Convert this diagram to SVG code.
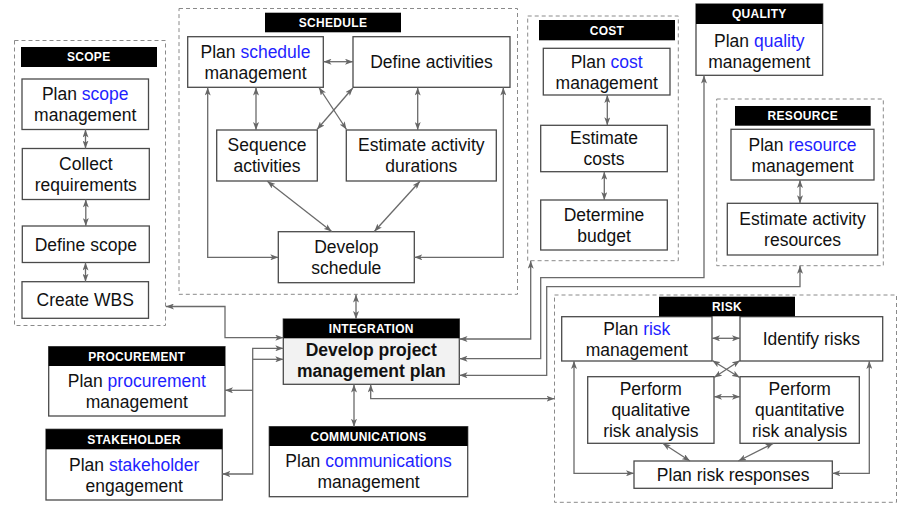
<svg xmlns="http://www.w3.org/2000/svg" width="909" height="509" viewBox="0 0 909 509">
<defs>
<marker id="ah" viewBox="0 0 8 6" refX="8" refY="3" markerWidth="8" markerHeight="6" markerUnits="userSpaceOnUse" orient="auto-start-reverse">
<path d="M0,0 L8,3 L0,6 L2,3 z" fill="#666"/>
</marker>
<style>
.grp{fill:none;stroke:#8a8a8a;stroke-width:1;stroke-dasharray:4 3}
.box{fill:#fff;stroke:#4a4a4a;stroke-width:1.3}
.ibox{fill:#f2f2f2;stroke:#4a4a4a;stroke-width:1.3}
.bar{fill:#000}
.t{font-family:"Liberation Sans",Arial,sans-serif;font-size:17.5px;fill:#111;text-anchor:middle}
.b{font-weight:bold}
.h{font-family:"Liberation Sans",Arial,sans-serif;font-size:12px;font-weight:bold;fill:#fff;text-anchor:middle;letter-spacing:0.3px}
.bl{fill:#1f1fff}
.c{fill:none;stroke:#6a6a6a;stroke-width:1.3;marker-start:url(#ah);marker-end:url(#ah)}
.ce{fill:none;stroke:#6a6a6a;stroke-width:1.3;marker-end:url(#ah)}
.cn{fill:none;stroke:#6a6a6a;stroke-width:1.3}
</style>
</defs>
<rect width="909" height="509" fill="#fff"/>

<g id="scope">
<rect class="grp" x="14.5" y="40.5" width="151" height="285"/>
<rect class="bar" x="21" y="47" width="136" height="20"/>
<text class="h" x="88.7" y="61">SCOPE</text>
<g id="plan-scope"><rect class="box" x="22" y="79" width="126.5" height="50.5"/><text class="t" x="85.2" y="99.8">Plan <tspan class="bl">scope</tspan></text><text class="t" x="85.2" y="120.8">management</text></g>
<g id="collect-req"><rect class="box" x="22.3" y="148.5" width="127" height="51"/><text class="t" x="85.8" y="169.6">Collect</text><text class="t" x="85.8" y="190.6">requirements</text></g>
<g id="define-scope"><rect class="box" x="22.3" y="226" width="127" height="36.5"/><text class="t" x="85.8" y="250.5">Define scope</text></g>
<g id="create-wbs"><rect class="box" x="22" y="281.7" width="126.5" height="36.6"/><text class="t" x="85.2" y="306.3">Create WBS</text></g>
</g>

<g id="schedule">
<rect class="grp" x="179" y="8.5" width="338.5" height="285.8"/>
<rect class="bar" x="265" y="12.7" width="136" height="19.6"/>
<text class="h" x="333" y="26.8">SCHEDULE</text>
<g id="plan-schedule"><rect class="box" x="187.7" y="36.7" width="135.6" height="50.6"/><text class="t" x="255.5" y="57.8">Plan <tspan class="bl">schedule</tspan></text><text class="t" x="255.5" y="78.8">management</text></g>
<g id="define-activities"><rect class="box" x="353" y="36.7" width="157" height="50.6"/><text class="t" x="431.5" y="68.3">Define activities</text></g>
<g id="sequence-activities"><rect class="box" x="216.7" y="130" width="100.6" height="51"/><text class="t" x="267" y="151.3">Sequence</text><text class="t" x="267" y="172.3">activities</text></g>
<g id="estimate-durations"><rect class="box" x="346.3" y="130" width="150" height="51"/><text class="t" x="421.3" y="151.3">Estimate activity</text><text class="t" x="421.3" y="172.3">durations</text></g>
<g id="develop-schedule"><rect class="box" x="278.3" y="231.7" width="136" height="51"/><text class="t" x="346.3" y="253">Develop</text><text class="t" x="346.3" y="274">schedule</text></g>
</g>

<g id="cost">
<rect class="grp" x="527.7" y="16" width="150.6" height="244.7"/>
<rect class="bar" x="539" y="20" width="136" height="20.3"/>
<text class="h" x="607" y="34.5">COST</text>
<g id="plan-cost"><rect class="box" x="543.3" y="48.3" width="126.7" height="46.7"/><text class="t" x="606.7" y="67.5">Plan <tspan class="bl">cost</tspan></text><text class="t" x="606.7" y="88.5">management</text></g>
<g id="estimate-costs"><rect class="box" x="540.7" y="125.3" width="126.6" height="46.4"/><text class="t" x="604" y="144.3">Estimate</text><text class="t" x="604" y="165.3">costs</text></g>
<g id="determine-budget"><rect class="box" x="540.7" y="200" width="126.6" height="50"/><text class="t" x="604" y="220.8">Determine</text><text class="t" x="604" y="241.8">budget</text></g>
</g>

<g id="quality">
<rect class="box" x="696" y="4" width="126.7" height="71.3"/>
<rect class="bar" x="696" y="4" width="126.7" height="20"/>
<text class="h" x="759.3" y="18.3">QUALITY</text>
<text class="t" x="759.3" y="46.5">Plan <tspan class="bl">quality</tspan></text><text class="t" x="759.3" y="67.5">management</text>
</g>

<g id="resource">
<rect class="grp" x="716.7" y="99" width="166.6" height="166.7"/>
<rect class="bar" x="735" y="106" width="135.7" height="19.7"/>
<text class="h" x="802.8" y="120.1">RESOURCE</text>
<g id="plan-resource"><rect class="box" x="731" y="129.3" width="143" height="50.7"/><text class="t" x="802.5" y="150.5">Plan <tspan class="bl">resource</tspan></text><text class="t" x="802.5" y="171.5">management</text></g>
<g id="estimate-resources"><rect class="box" x="727.3" y="203.3" width="150.4" height="51.7"/><text class="t" x="802.5" y="225">Estimate activity</text><text class="t" x="802.5" y="246">resources</text></g>
</g>

<g id="integration">
<rect class="ibox" x="283.3" y="319" width="176" height="65.3"/>
<rect class="bar" x="283.3" y="319" width="176" height="19.3"/>
<text class="h" x="371.3" y="333">INTEGRATION</text>
<text class="t b" x="371.3" y="355.8">Develop project</text><text class="t b" x="371.3" y="376.8">management plan</text>
</g>

<g id="procurement">
<rect class="box" x="48.7" y="346.7" width="176.3" height="69.3"/>
<rect class="bar" x="48.7" y="346.7" width="176.3" height="19.3"/>
<text class="h" x="136.8" y="360.8">PROCUREMENT</text>
<text class="t" x="136.8" y="386.8">Plan <tspan class="bl">procurement</tspan></text><text class="t" x="136.8" y="407.8">management</text>
</g>

<g id="stakeholder">
<rect class="box" x="46" y="429.3" width="176.3" height="70.7"/>
<rect class="bar" x="46" y="429.3" width="176.3" height="20"/>
<text class="h" x="134.2" y="443.8">STAKEHOLDER</text>
<text class="t" x="134.2" y="470.5">Plan <tspan class="bl">stakeholder</tspan></text><text class="t" x="134.2" y="491.5">engagement</text>
</g>

<g id="communications">
<rect class="box" x="269.3" y="426.7" width="198.4" height="70"/>
<rect class="bar" x="269.3" y="426.7" width="198.4" height="19.3"/>
<text class="h" x="368.5" y="440.8">COMMUNICATIONS</text>
<text class="t" x="368.5" y="467.2">Plan <tspan class="bl">communications</tspan></text><text class="t" x="368.5" y="488.2">management</text>
</g>

<g id="risk">
<rect class="grp" x="554.5" y="295" width="342" height="207.3"/>
<g id="plan-risk"><rect class="box" x="561.7" y="316.7" width="150.3" height="44.3"/><text class="t" x="636.8" y="334.8">Plan <tspan class="bl">risk</tspan></text><text class="t" x="636.8" y="355.8">management</text></g>
<g id="identify-risks"><rect class="box" x="740" y="316.7" width="142.7" height="44.3"/><text class="t" x="811.3" y="345.2">Identify risks</text></g>
<g id="qualitative"><rect class="box" x="587.7" y="376.7" width="126.3" height="66.6"/><text class="t" x="650.8" y="395.3">Perform</text><text class="t" x="650.8" y="416.3">qualitative</text><text class="t" x="650.8" y="437.3">risk analysis</text></g>
<g id="quantitative"><rect class="box" x="740" y="376.7" width="119.3" height="66.6"/><text class="t" x="799.7" y="395.3">Perform</text><text class="t" x="799.7" y="416.3">quantitative</text><text class="t" x="799.7" y="437.3">risk analysis</text></g>
<g id="risk-responses"><rect class="box" x="634" y="461" width="198.3" height="27.3"/><text class="t" x="733.2" y="481">Plan risk responses</text></g>
<rect class="bar" x="659" y="296.7" width="136" height="19.6"/>
<text class="h" x="727" y="310.8">RISK</text>
</g>

<g id="connectors">
<path class="c" d="M85.5,129.5 V148.5"/>
<path class="c" d="M85.8,199.5 V226"/>
<path class="c" d="M85.5,262.5 V281.7"/>
<path class="c" d="M283.3,337.7 H225 V306.5 H166"/>
<path class="c" d="M323.5,61.7 H353"/>
<path class="c" d="M256,87.5 V130"/>
<path class="c" d="M417.7,87.5 V130"/>
<path class="c" d="M319,87.5 L346.5,129.5"/>
<path class="c" d="M352.8,88 L317,129.5"/>
<path class="c" d="M267.3,181.3 L331.7,231.5"/>
<path class="c" d="M420,181.3 L374.3,231.5"/>
<path class="c" d="M207.7,87.5 V257.3 H278.3"/>
<path class="c" d="M503.3,87.5 V257.3 H414.3"/>
<path class="c" d="M356,294.5 V319"/>
<path class="c" d="M354,384.5 V426.7"/>
<path class="c" d="M370.7,384.5 V398.7 H554.5"/>
<path class="c" d="M459.5,339 H530.7 V260.8"/>
<path class="c" d="M459.5,358.7 H540.7 V277.7 H704 V75.5"/>
<path class="c" d="M459.5,375.3 H546.7 V286.7 H800 V265.7"/>
<path class="c" d="M283.3,348.3 H252.7 V474 H222.3"/>
<path class="ce" d="M252.7,359.3 H283.3"/>
<path class="ce" d="M252.7,390.3 H225"/>
<path class="c" d="M607.3,95 V125.3"/>
<path class="c" d="M604.3,171.7 V200"/>
<path class="c" d="M800,180 V203.3"/>
<path class="c" d="M712,338.3 H740"/>
<path class="c" d="M714,396.7 H740"/>
<path class="c" d="M712.3,360.5 L739.7,377.5"/>
<path class="c" d="M740,360.5 L714,377.5"/>
<path class="c" d="M662.7,443.3 L690,461"/>
<path class="c" d="M773.3,443.3 L738.3,461"/>
<path class="c" d="M574,361 V473.3 H634"/>
<path class="c" d="M869.3,361 V473.3 H832.3"/>
</g>
</svg>
